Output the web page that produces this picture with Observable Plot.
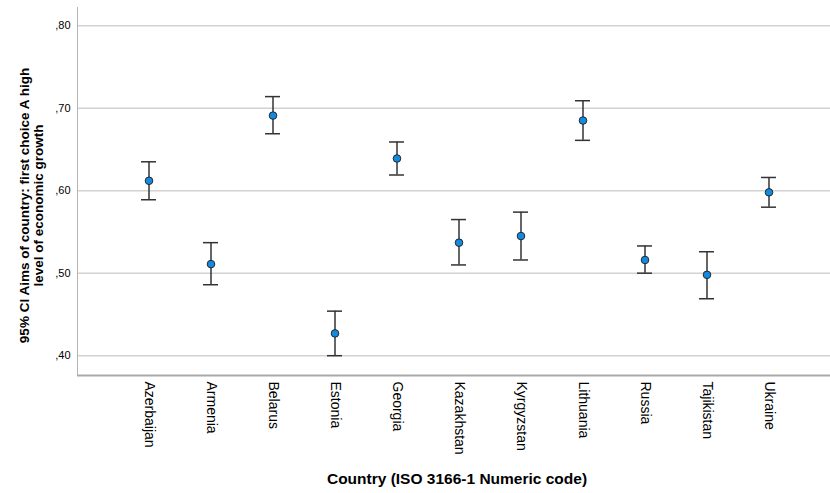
<!DOCTYPE html>
<html>
<head>
<meta charset="utf-8">
<script src="https://cdn.jsdelivr.net/npm/d3@7"></script>
<script src="https://cdn.jsdelivr.net/npm/@observablehq/plot@0.6"></script>
<style>
  html, body { margin: 0; padding: 0; background: #fff; }
  #chart svg { display: block; }
</style>
</head>
<body>
<div id="chart"></div>
<script>
const countries = ["Azerbaijan", "Armenia", "Belarus", "Estonia", "Georgia", "Kazakhstan", "Kyrgyzstan", "Lithuania", "Russia", "Tajikistan", "Ukraine"];
const means = [0.612, 0.511, 0.691, 0.427, 0.639, 0.537, 0.545, 0.685, 0.516, 0.498, 0.598];
const lower = [0.589, 0.486, 0.669, 0.400, 0.619, 0.510, 0.516, 0.661, 0.500, 0.469, 0.580];
const upper = [0.635, 0.537, 0.714, 0.454, 0.659, 0.565, 0.574, 0.709, 0.533, 0.526, 0.616];
const yTicks = [0.40, 0.50, 0.60, 0.70, 0.80];
const yLabel = "95% CI Aims of country: first choice A high\nlevel of economic growth";
const xLabel = "Country (ISO 3166-1 Numeric code)";

const data = countries.map((c, i) => ({country: c, mean: means[i], lo: lower[i], hi: upper[i]}));
const fmt = d => d3.format(".2f")(d).replace(/^0/, "").replace(".", ",");
const font = "'Liberation Sans', Arial, sans-serif";

const chart = Plot.plot({
  width: 830,
  height: 493,
  marginTop: 7,
  marginBottom: 118,
  marginLeft: 77,
  marginRight: 0,
  style: {fontFamily: font, fontSize: "11px", color: "#000", background: "#fff"},
  x: {type: "band", domain: countries, paddingInner: 0.76, paddingOuter: 0, insetLeft: 61.5, insetRight: 51.5},
  y: {domain: [0.376, 0.822]},
  marks: [
    Plot.ruleY(yTicks, {stroke: "#d2d2d2", strokeWidth: 1.5}),
    Plot.frame({anchor: "left", stroke: "#b5b5b5", strokeWidth: 1}),
    Plot.axisY({ticks: yTicks, tickFormat: fmt, tickSize: 0, tickPadding: 7, label: null, fontSize: 11}),
    Plot.axisX({tickSize: 0, tickPadding: 6, tickRotate: 90, fontSize: 14, label: null}),
    Plot.ruleY([0.376], {stroke: "#a9a9a9", strokeWidth: 2}),
    Plot.ruleX(data, {x: "country", y1: "lo", y2: "hi", stroke: "#333", strokeWidth: 1.5}),
    Plot.tickY(data, {x: "country", y: "hi", stroke: "#333", strokeWidth: 1.5}),
    Plot.tickY(data, {x: "country", y: "lo", stroke: "#333", strokeWidth: 1.5}),
    Plot.dot(data, {x: "country", y: "mean", r: 3.8, fill: "#1589dc", stroke: "#1d2a36", strokeWidth: 1}),
    Plot.text([yLabel], {frameAnchor: "left", dx: -46, dy: 14, rotate: -90, fontSize: 13.5, fontWeight: "bold", fill: "#000", lineHeight: 1.0, textAnchor: "middle"}),
    Plot.text([xLabel], {frameAnchor: "bottom", dy: 108, dx: 3, fontSize: 15.5, fontWeight: "bold", fill: "#000"})
  ]
});
document.getElementById("chart").appendChild(chart);
</script>
</body>
</html>
